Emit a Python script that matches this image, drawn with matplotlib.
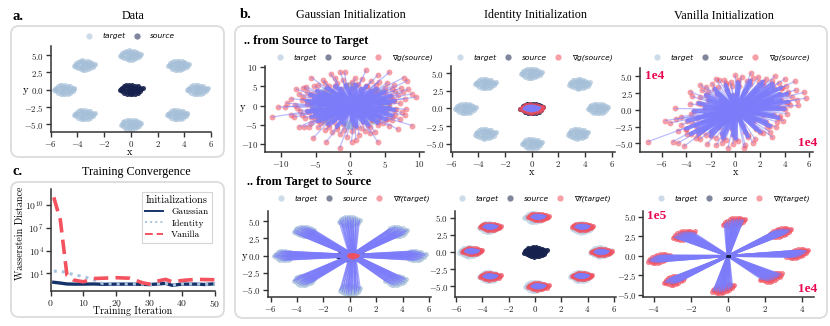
import matplotlib
matplotlib.use("Agg")
import matplotlib.pyplot as plt
import numpy as np
from matplotlib.lines import Line2D
from matplotlib.patches import FancyBboxPatch
from matplotlib.transforms import IdentityTransform

W, H = 830, 326

plt.rcParams['font.family'] = ['cmr10', 'DejaVu Serif']
plt.rcParams['mathtext.fontset'] = 'cm'
plt.rcParams['axes.unicode_minus'] = False
plt.rcParams['axes.formatter.use_mathtext'] = True

# cluster centres
target_centres = [(-0.05, 5.0), (-3.5, 3.55), (-5.0, 0.0), (-3.5, -3.6),
                  (0.0, -5.0), (3.45, -3.6), (4.95, 0.0), (3.55, 3.5)]
# centres of the mapped clusters, lower middle panel
mapped_centres = [(0.25, 5.1), (-3.4, 3.65), (-4.8, 0.1), (-3.4, -3.55),
                  (0.25, -5.0), (3.55, -3.5), (5.05, 0.0), (3.6, 3.65)]
# mapped clusters, lower right panel (x in 1e4, y in 1e5)
vanilla_centres = [(0.3, 4.3), (-2.4, 2.65), (-3.75, -0.35), (-2.9, -3.1),
                   (-0.3, -4.2), (2.3, -2.7), (3.7, 0.3), (2.8, 3.0)]

# shape of one blob, estimated, about unit radius
blob = np.array([
    (-0.95, 0.1), (-0.85, 0.4), (-0.8, -0.35), (-0.65, 0.7), (-0.6, -0.65), (-0.7, 0.05),
    (-0.4, 0.85), (-0.35, -0.85), (-0.45, 0.35), (-0.4, -0.3), (-0.15, 0.95), (-0.1, -0.95),
    (-0.2, 0.55), (-0.15, -0.55), (-0.1, 0.15), (-0.2, -0.1), (0.1, 0.9), (0.15, -0.9),
    (0.1, 0.5), (0.2, -0.45), (0.05, -0.15), (0.3, 0.1), (0.4, 0.8), (0.4, -0.8),
    (0.45, 0.4), (0.45, -0.25), (0.65, 0.65), (0.65, -0.6), (0.7, 0.15), (0.7, -0.2),
    (0.85, 0.4), (0.9, -0.35), (1.0, 0.05), (1.1, 0.3), (-1.05, -0.15), (0.25, 0.3)])

# upper left panel, gradient points
gauss_grad = np.array([
    (-11.3, -3.0), (-10.4, -0.4), (-9.2, 0.6), (-8.6, 1.8), (-7.8, 4.3), (-6.8, 4.7),
    (-5.6, 7.3), (-3.9, 6.6), (-2.8, 8.3), (-2.2, 7.3), (-1.4, 8.8), (-0.8, 8.8),
    (0.7, 7.1), (2.3, 9.2), (4.0, 8.0), (5.7, 8.7), (7.8, 7.3), (8.3, 6.5),
    (8.4, 4.2), (9.0, 3.1), (9.6, 2.2), (7.9, 1.8), (7.0, 2.7), (9.0, -5.2),
    (8.1, -1.0), (7.9, -2.5), (6.9, -6.2), (5.6, -5.3), (4.0, -9.5), (2.9, -7.2),
    (0.8, -9.0), (0.2, -9.4), (-1.5, -11.0), (-3.5, -9.5), (-5.4, -8.5), (-7.4, -5.5),
    (-6.7, -5.6), (-5.9, -5.5), (-8.1, -3.0), (-9.4, -0.3), (-8.6, -2.5), (-6.4, 4.9),
    (-4.6, 5.4), (-3.7, 5.9), (-1.9, 6.0), (0.3, 6.2), (1.7, 7.0), (3.0, 6.4),
    (4.2, 6.2), (5.4, 5.9), (6.4, 5.3), (7.3, 4.5), (6.5, 3.8), (7.6, 3.4),
    (-7.4, 3.0), (-6.2, 3.6), (-7.0, 1.5), (-8.0, 0.2), (-6.3, 0.5), (-7.3, -1.3),
    (-6.6, -3.2), (-5.6, -4.5), (-4.6, -5.6), (-3.6, -6.3), (-2.6, -6.9), (-1.4, -7.4),
    (-0.5, -8.1), (1.3, -7.6), (2.2, -6.6), (3.6, -6.9), (4.7, -4.6), (6.1, -3.8),
    (7.2, -3.6), (6.6, -0.8), (7.2, 0.6), (5.6, 1.2), (4.8, 3.4), (3.4, 3.9),
    (-5.2, 5.0), (-3.1, 5.1), (-1.0, 6.6), (1.1, 5.6), (2.4, 5.2), (3.7, 5.3),
    (5.1, 4.6), (6.1, 4.4), (-6.8, 2.3), (-5.5, 2.9), (-7.7, -0.6), (-6.0, -1.6),
    (-7.0, -2.4), (-5.1, -3.4), (-4.2, -4.6), (-3.0, -5.6), (-1.9, -6.0), (-0.9, -6.4),
    (0.3, -6.7), (1.6, -5.9), (2.9, -5.5), (4.1, -5.1), (5.3, -3.6), (6.5, -2.4),
    (7.5, -1.8), (5.8, 2.6), (6.4, 1.4)])
# dense middle of the same cloud
gauss_core = np.array([
    (-5.6, 0.6), (-5.5, -0.9), (-5.2, 1.7), (-5.1, -2.0), (-4.6, 2.6), (-4.6, -2.9),
    (-3.8, 3.3), (-3.6, -3.6), (-2.6, 3.9), (-2.4, -4.2), (-1.3, 4.4), (-1.0, -4.7),
    (0.2, 4.6), (0.5, -4.8), (1.6, 4.4), (1.9, -4.4), (3.0, 3.7), (3.2, -3.7),
    (4.2, 2.9), (4.3, -2.9), (5.1, 1.8), (5.2, -1.8), (5.7, 0.7), (5.7, -0.6),
    (-4.4, 0.2), (-4.0, 1.5), (-3.8, -1.5), (-3.0, 2.5), (-2.8, -2.7), (-1.6, 3.0),
    (-1.5, -3.2), (0.0, 3.4), (0.2, -3.5), (1.6, 3.1), (1.7, -3.1), (2.9, 2.3),
    (3.0, -2.4), (3.9, 1.3), (3.9, -1.2), (4.4, 0.1), (-3.0, 0.4), (-2.5, -0.9),
    (-2.1, 1.5), (-0.8, 2.0), (0.6, 2.1), (1.9, 1.4), (2.7, 0.3), (2.2, -1.2),
    (0.9, -2.0), (-0.7, -2.1), (-1.2, 0.4), (1.0, 0.3),
    (-6.3, 1.2), (-6.2, -1.5), (-5.8, 2.8), (-5.6, -3.0), (-4.8, 3.8), (-4.6, -4.1),
    (-3.4, 4.5), (-3.2, -4.8), (-2.2, 5.0), (-1.9, -5.4), (-0.6, 5.3), (0.8, 5.4),
    (0.9, -5.5), (2.3, 5.0), (2.6, -5.0), (3.8, 4.4), (4.0, -4.4), (5.0, 3.6),
    (5.2, -3.6), (5.9, 2.5), (6.0, -2.6), (6.4, 1.2), (6.4, -1.1)])

# upper right panel, gradient points (1e4)
vanilla_grad = np.array([
    (-7.1, -4.75), (-5.1, -4.75), (-4.7, -5.0), (-4.2, -5.45), (-5.7, -1.6), (-5.3, -1.95),
    (-4.9, 0.2), (-4.7, -3.15), (-3.65, 2.7), (-2.85, 3.75), (-2.4, 3.45), (-1.6, 4.6),
    (-1.3, 4.45), (-0.8, 3.95), (-0.4, 4.15), (0.0, 5.15), (0.5, 4.95), (1.27, 5.55),
    (1.85, 4.85), (3.2, 5.05), (4.0, 4.6), (4.8, 4.25), (5.55, 2.6), (5.7, 1.75),
    (5.1, 0.65), (4.4, 0.65), (4.2, -0.55), (3.3, -2.55), (3.0, -4.1), (1.6, -4.4),
    (0.8, -5.3), (0.7, -5.7), (-0.6, -5.7), (-1.55, -5.3), (-2.3, -5.15), (-3.2, -4.2),
    (-3.9, -3.6), (-4.4, -2.2), (-4.4, -1.0), (-3.7, 0.9), (-3.5, 2.0), (-2.9, 1.9),
    (-2.2, 2.6), (-1.4, 3.4), (-0.3, 3.6), (0.9, 4.3), (1.9, 4.1), (2.5, 4.6),
    (3.5, 4.0), (4.1, 3.6), (4.3, 2.7), (4.6, 1.9), (4.1, 1.2), (3.6, -0.9),
    (3.4, -1.8), (2.6, -2.6), (2.2, -3.4), (1.0, -3.8), (0.2, -4.6), (-0.8, -4.5),
    (-1.6, -4.2), (-2.4, -3.8), (-3.0, -3.0), (-3.5, -2.0), (-3.6, -0.6), (-2.8, 0.8),
    (-2.7, 3.0), (-1.9, 3.9), (-0.9, 4.4), (0.2, 4.4), (1.4, 4.7), (3.0, 4.3),
    (3.8, 3.2), (4.9, 3.0), (5.0, 1.5), (3.9, 0.3), (3.9, -1.6), (2.8, -3.3),
    (1.4, -4.9), (-0.2, -5.1), (-1.1, -4.9), (-2.9, -4.4), (-4.0, -2.9), (-4.8, -1.4)])
# dense middle of the same cloud
vanilla_core = np.array([
    (-3.2, -2.4), (-2.7, -3.1), (-3.1, -1.2), (-2.5, 0.3), (-2.0, -3.3), (-1.1, -3.6),
    (-0.2, -3.8), (0.8, -3.3), (1.7, -2.9), (2.5, -1.8), (3.1, -0.8), (3.5, 0.4),
    (3.7, 1.4), (3.6, 2.4), (3.1, 3.3), (2.2, 3.7), (1.2, 3.9), (0.3, 3.6),
    (-0.7, 3.0), (-1.5, 2.4), (-2.2, 1.4), (-2.5, -0.8), (-2.1, -1.9), (-1.3, -2.6),
    (-0.3, -2.8), (0.6, -2.4), (1.5, -1.7), (2.2, -0.7), (2.7, 0.4), (2.9, 1.5),
    (2.6, 2.5), (1.7, 2.9), (0.8, 2.8), (-0.2, 2.2), (-1.2, 1.4), (-1.6, 0.2),
    (-1.7, -1.0), (-0.8, -1.7), (0.3, -1.4), (1.2, -0.7), (1.9, 0.4), (1.9, 1.5),
    (1.0, 1.7), (0.0, 1.2), (-0.7, 0.2), (0.5, 0.1),
    (-4.0, -2.8), (-3.6, -3.6), (-3.9, -1.6), (-3.4, -0.2), (-3.0, 1.0), (-2.4, 2.2),
    (-1.7, 3.1), (-0.8, 3.7), (0.2, 4.1), (1.2, 4.3), (2.2, 4.2), (3.0, 3.9),
    (3.7, 3.3), (4.2, 2.4), (4.3, 1.2), (4.0, 0.1), (3.5, -1.2), (2.8, -2.4),
    (2.0, -3.3), (1.0, -4.0), (0.0, -4.3), (-1.0, -4.2), (-2.0, -3.9), (-3.0, -3.6)])

iterations = [1, 3, 5, 7, 10, 13, 16, 20, 24, 28, 30, 32, 35, 37, 40, 44, 47, 50]
gaussian_loss = [0.7, 0.55, 0.42, 0.4, 0.4, 0.42, 0.38, 0.4, 0.4, 0.38, 0.35, 0.4, 0.5, 0.28, 0.4, 0.4, 0.36, 0.45]
identity_loss = [20, 20, 13, 7, 4, 1.6, 0.45, 0.42, 0.42, 0.4, 0.3, 0.42, 0.5, 0.3, 0.42, 0.42, 0.36, 0.48]
vanilla_loss = [1e11, 1e8, 6, 1.4, 0.8, 2.2, 2.4, 2.8, 2.4, 0.6, 0.4, 0.9, 1.7, 0.8, 1.2, 1.7, 1.6, 1.5]

TARGET = '#a5bfd8'
SOURCE = '#16224d'
RED = '#f0505f'
LINE = '#7c7cfa'
PINK = '#e8064f'
SERIF = ['Liberation Serif']
fig = plt.figure(figsize=(W / 100, H / 100), dpi=100)


def box(x0, y0, x1, y1):
    # rounded panel frame, pixel coordinates
    p = FancyBboxPatch((x0 + 8, H - y1 + 8), x1 - x0 - 16, y1 - y0 - 16,
                       boxstyle="round,pad=8,rounding_size=8",
                       transform=IdentityTransform(), fc='white', ec='#dedede', lw=1.4, zorder=-5)
    fig.add_artist(p)


def text(x, y, s, **kw):
    fig.text(x / W, 1 - y / H, s, ha=kw.pop('ha', 'center'), va=kw.pop('va', 'center'), **kw)


def style(ax, size=6.4):
    for s in ('top', 'right'):
        ax.spines[s].set_visible(False)
    for s in ('left', 'bottom'):
        ax.spines[s].set_linewidth(1.1)
        ax.spines[s].set_color('#333333')
    ax.tick_params(labelsize=size, length=3.5, width=1, pad=1.2, color='#333333', labelcolor='#222222')
    ax.patch.set_alpha(0)


def axes(left, right, top, bottom, xlim, ylim, xticks, yticks):
    ax = fig.add_axes([left / W, 1 - bottom / H, (right - left) / W, (bottom - top) / H])
    ax.set_xlim(xlim)
    ax.set_ylim(ylim)
    ax.set_xticks(xticks, ['$%g$' % t for t in xticks])
    if any(v % 1 for v in yticks):
        ax.set_yticks(yticks, ['$%.1f$' % t for t in yticks])
    else:
        ax.set_yticks(yticks, ['$%g$' % t for t in yticks])
    style(ax)
    return ax


def legend(labels, cx, cy):
    colors = [TARGET, SOURCE, RED]
    hs = [Line2D([], [], ls='', marker='o', ms=4.5, mec='none', mfc=c, alpha=0.55, label=l)
          for c, l in zip(colors, labels)]
    fig.legend(handles=hs, loc='center', bbox_to_anchor=(cx / W, 1 - cy / H), ncol=len(hs), frameon=False,
               prop={'family': 'DejaVu Sans', 'style': 'italic', 'size': 5.4}, handletextpad=1.2,
               columnspacing=0.9, handlelength=1.2, borderpad=0, borderaxespad=0)


def scatter(ax, pts, color, size=13, alpha=0.65, z=1):
    ax.scatter(pts[:, 0], pts[:, 1], s=size, c=color, alpha=alpha, lw=0, zorder=z)


def links(ax, a, b, lw=0.8, alpha=0.55, z=4):
    for (x0, y0), (x1, y1) in zip(a, b):
        ax.plot([x0, x1], [y0, y1], color=LINE, lw=lw, alpha=alpha, zorder=z, solid_capstyle='round')


def clusters(centres, r=0.72):
    return np.vstack([np.array(c) + blob * r for c in centres])


targets = clusters(target_centres)
sources = blob * [0.8, 0.72]
grad_g = '∇g(source)'
grad_f = '∇f(target)'

box(11, 26, 224, 157)
box(11, 182, 224, 317)
box(235, 26, 827, 318)

for x, y, s in [(12, 16, 'a.'), (240, 15, 'b.'), (12, 172, 'c.')]:
    text(x, y, s, family=SERIF, weight='bold', size=10.5, ha='left')
for x, y, s in [(133, 16, 'Data'), (136, 172, 'Training Convergence'), (351, 15, 'Gaussian Initialization'),
                (535, 15, 'Identity Initialization'), (724, 16, 'Vanilla Initialization')]:
    text(x, y, s, family=SERIF, size=8.7)
text(244, 41, '.. from Source to Target', family=SERIF, weight='bold', size=8.8, ha='left')
text(247, 182, '.. from Target to Source', family=SERIF, weight='bold', size=8.8, ha='left')

tick6 = [-6, -4, -2, 0, 2, 4, 6]
tick5 = [-5.0, -2.5, 0.0, 2.5, 5.0]

# a. data
ax = axes(50.5, 211, 46, 132, (-6, 6), (-6.1, 6.3), tick6, tick5)
scatter(ax, targets, TARGET)
scatter(ax, sources, SOURCE, alpha=0.9, z=2)
legend(['target', 'source'], 130, 36)
text(130, 152, 'x', size=7.5)
text(25, 90, 'y', size=7.5)

# c. convergence
ax = fig.add_axes([50.5 / W, 1 - 291 / H, (215 - 50.5) / W, (291 - 189) / H])
ax.set_yscale('log')
ax.plot(iterations, gaussian_loss, color='#17336b', lw=2.4, label='Gaussian', zorder=2)
ax.plot(iterations, identity_loss, color='#a9c4de', lw=2.2, ls=':', label='Identity', zorder=3)
ax.plot(iterations, vanilla_loss, color='#f4525f', lw=2.6, ls=(0, (4, 2)), label='Vanilla', zorder=4)
ax.set_xlim(0, 50)
ax.set_ylim(10 ** -1.3, 10 ** 12.1)
ax.set_xticks([0, 10, 20, 30, 40, 50], ['$%d$' % t for t in [0, 10, 20, 30, 40, 50]])
ax.set_yticks([1e1, 1e4, 1e7, 1e10], ['$10^{1}$', '$10^{4}$', '$10^{7}$', '$10^{10}$'])
ax.minorticks_off()
style(ax, size=7)
leg = ax.legend(title='Initializations', loc='upper right', bbox_to_anchor=(0.98, 0.97), fontsize=6.8,
                title_fontsize=7.5, fancybox=False, edgecolor='#d5d5d5', framealpha=1, borderpad=0.35,
                labelspacing=0.3, handlelength=1.9, handletextpad=0.9, borderaxespad=0)
leg.get_frame().set_linewidth(0.8)
for l in leg.get_lines():
    l.set_linewidth(1.4)
text(133, 311, 'Training Iteration', size=7.2)
text(20, 233, 'Wasserstein Distance', size=7.2, rotation=90)

# b. top left
ax = axes(264.5, 424, 66, 152, (-12.4, 10.7), (-12.1, 10.3), [-10, -5, 0, 5, 10], [-10, -5, 0, 5, 10])
scatter(ax, targets, TARGET, size=10)
scatter(ax, gauss_grad, RED, size=18, alpha=0.55, z=3)
scatter(ax, gauss_core, RED, size=18, alpha=0.55, z=3)
links(ax, np.resize(sources, gauss_grad.shape), gauss_grad, lw=0.9, alpha=0.5)
links(ax, np.resize(sources, gauss_core.shape), gauss_core, lw=3.0, alpha=0.9, z=5)
legend(['target', 'source', grad_g], 354, 58)
text(350, 172, 'x', size=7.5)
text(242, 107, 'y', size=7.5)

# b. top middle
ax = axes(451, 615, 66, 152, (-6.05, 6.25), (-6.2, 6.05), tick6, tick5)
scatter(ax, targets, TARGET)
scatter(ax, sources, SOURCE, alpha=0.9, z=2)
scatter(ax, blob * [0.8, 0.62], RED, size=13, alpha=0.75, z=3)
links(ax, blob * [0.1, 0.1], blob * [0.55, 0.38], lw=2.2, alpha=0.95)
legend(['target', 'source', grad_g], 534, 58)
text(532, 172, 'x', size=7.5)

# b. top right
ax = axes(640, 813, 68, 152, (-7.75, 6.3), (-6.3, 6.25), tick6, tick5)
scatter(ax, vanilla_grad, RED, size=18, alpha=0.55, z=3)
scatter(ax, vanilla_core, RED, size=18, alpha=0.55, z=3)
links(ax, np.resize(sources * 0.1, vanilla_grad.shape), vanilla_grad, lw=0.9, alpha=0.5)
links(ax, np.resize(sources * 0.1, vanilla_core.shape), vanilla_core, lw=3.0, alpha=0.9, z=5)
legend(['target', 'source', grad_g], 731, 58)
text(736, 172, 'x', size=7.5)
text(645, 76, '1e4', family=SERIF, weight='bold', size=9.5, color=PINK, ha='left')
text(817, 143, '1e4', family=SERIF, weight='bold', size=9.5, color=PINK, ha='right')

# b. bottom left
ax = axes(267.7, 431, 211, 297.3, (-6.22, 6.15), (-6.07, 6.5), tick6, tick5)
scatter(ax, targets, TARGET, z=1)
scatter(ax, sources * [1.05, 0.8], SOURCE, size=16, alpha=0.95, z=2)
ends = np.resize(blob * [0.22, 0.18] + [0.2, 0.0], targets.shape)
links(ax, targets, ends, lw=0.8, alpha=0.65, z=3)
scatter(ax, blob * [0.35, 0.3] + [0.2, 0.0], RED, size=5, alpha=0.6, z=5)
legend(['target', 'source', grad_f], 353, 199)
text(244, 256, 'y', size=7.5)

# b. bottom middle
ax = axes(455, 616, 211, 297.3, (-6.08, 6.16), (-6.6, 5.95), tick6, tick5)
scatter(ax, targets, TARGET, alpha=0.45)
scatter(ax, sources, SOURCE, alpha=0.95, z=2)
for c in mapped_centres:
    scatter(ax, np.array(c) + blob * [0.72, 0.5], RED, size=13, alpha=0.7, z=3)
    links(ax, np.array(c) + blob * 0.1, np.array(c) + blob * [0.5, 0.35], lw=1.6, alpha=0.95)
legend(['target', 'source', grad_f], 534, 199)

# b. bottom right, clusters lie almost flat, offsets given in pixels
ax = axes(643.3, 814, 211, 297, (-4.58, 4.64), (-5.26, 5.75), [-4, -2, 0, 2, 4], tick5)
for c in vanilla_centres:
    shape = np.column_stack([blob[:, 0] * 10, blob[:, 1] * 4.5 + blob[:, 0] * 2.2]) / [18.5, 7.8]
    scatter(ax, np.array(c) + shape, RED, size=13, alpha=0.65, z=3)
    links(ax, blob * 0.05, np.array(c) + shape * [0.9, 0.75], lw=1.0, alpha=0.7)
scatter(ax, sources * 0.05, SOURCE, size=4, alpha=0.7, z=5)
legend(['target', 'source', grad_f], 733, 199)
text(647, 216, '1e5', family=SERIF, weight='bold', size=9.5, color=PINK, ha='left')
text(817, 289, '1e4', family=SERIF, weight='bold', size=9.5, color=PINK, ha='right')

fig.savefig('out.png', dpi=100)
